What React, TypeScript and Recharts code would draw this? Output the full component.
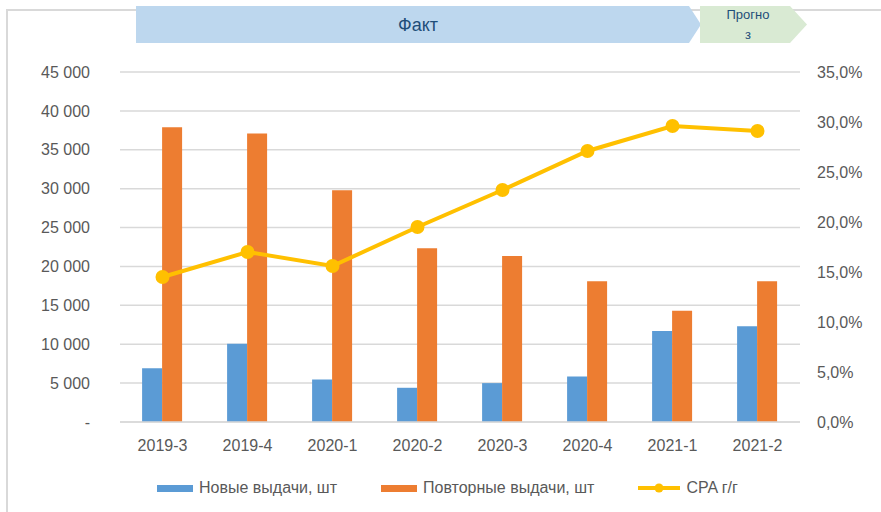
import { ComposedChart, Bar, Line, XAxis, YAxis, CartesianGrid, Legend } from 'recharts'

const quarters = ['2019-3', '2019-4', '2020-1', '2020-2', '2020-3', '2020-4', '2021-1', '2021-2']
const newIssues = [6900, 10050, 5450, 4400, 5000, 5850, 11700, 12300]
const repeatIssues = [37900, 37100, 29800, 22350, 21350, 18100, 14300, 18100]
const cpaYoY = [0.145, 0.17, 0.156, 0.195, 0.232, 0.271, 0.296, 0.291]

const leftTicks = [0, 5000, 10000, 15000, 20000, 25000, 30000, 35000, 40000, 45000]
const rightTicks = [0, 0.05, 0.1, 0.15, 0.2, 0.25, 0.3, 0.35]
const legendOrder = ['Новые выдачи, шт', 'Повторные выдачи, шт', 'CPA г/г']

const data = quarters.map((q, i) => ({
  q,
  newIssues: newIssues[i],
  repeatIssues: repeatIssues[i],
  cpa: cpaYoY[i],
}))

const font = '"Liberation Sans", Arial, sans-serif'
const tickStyle = { fill: '#595959', fontSize: 16, fontFamily: font }

const fmtThousands = (v: number) =>
  v === 0 ? '-' : String(v).replace(/\B(?=(\d{3})+(?!\d))/g, ' ')
const fmtPct = (v: number) => (v * 100).toFixed(1).replace('.', ',') + '%'

function LegendContent({ payload }: any) {
  const items = [...(payload || [])].sort(
    (a: any, b: any) => legendOrder.indexOf(a.value) - legendOrder.indexOf(b.value)
  )
  return (
    <div style={{ display: 'flex', justifyContent: 'flex-start', gap: 44, fontFamily: font, fontSize: 16, color: '#595959', paddingLeft: 157, paddingTop: 7 }}>
      {items.map((p: any) => (
        <div key={p.value} style={{ display: 'flex', alignItems: 'center', gap: 6 }}>
          {p.type === 'line' ? (
            <svg width={42} height={12}>
              <line x1={0} y1={6} x2={42} y2={6} stroke={p.color} strokeWidth={4} />
              <circle cx={21} cy={6} r={4.5} fill={p.color} />
            </svg>
          ) : (
            <span style={{ display: 'inline-block', width: 36, height: 7, background: p.color }} />
          )}
          <span>{p.value}</span>
        </div>
      ))}
    </div>
  )
}

export default function App() {
  return (
    <div style={{ position: 'absolute', left: 0, top: 0, width: 881, height: 512, background: '#fff', overflow: 'hidden' }}>
      <div style={{ position: 'absolute', left: 6, top: 9, right: -2, bottom: -2, borderLeft: '2px solid #d9d9d9', borderTop: '2px solid #d9d9d9' }} />
      <ComposedChart
        width={881}
        height={512}
        data={data}
        margin={{ top: 72, right: 0, bottom: 0, left: 0 }}
        barCategoryGap="26%"
        barGap={0}
        style={{ position: 'absolute', left: 0, top: 0 }}
      >
        <CartesianGrid yAxisId="left" vertical={false} stroke="#d9d9d9" strokeWidth={1.5} />
        <XAxis
          dataKey="q"
          tick={tickStyle}
          tickLine={false}
          axisLine={{ stroke: '#d9d9d9', strokeWidth: 1.5 }}
          tickMargin={12}
          height={50}
        />
        <YAxis
          yAxisId="left"
          width={120}
          domain={[0, 45000]}
          ticks={leftTicks}
          tickFormatter={fmtThousands}
          tick={tickStyle}
          tickLine={false}
          axisLine={false}
          tickMargin={24}
          interval={0}
        />
        <YAxis
          yAxisId="right"
          orientation="right"
          width={81}
          domain={[0, 0.35]}
          ticks={rightTicks}
          tickFormatter={fmtPct}
          tick={{ ...tickStyle, textAnchor: 'start' }}
          tickLine={false}
          axisLine={false}
          tickMargin={11}
          interval={0}
        />
        <Legend verticalAlign="bottom" height={40} content={<LegendContent />} />
        <Bar yAxisId="left" dataKey="newIssues" name="Новые выдачи, шт" fill="#5B9BD5" isAnimationActive={false} />
        <Bar yAxisId="left" dataKey="repeatIssues" name="Повторные выдачи, шт" fill="#ED7D31" isAnimationActive={false} />
        <Line
          yAxisId="right"
          dataKey="cpa"
          name="CPA г/г"
          type="linear"
          stroke="#FFC000"
          strokeWidth={4}
          dot={{ r: 5, fill: '#FFC000', stroke: '#FFC000' }}
          legendType="line"
          isAnimationActive={false}
        />
      </ComposedChart>
      <svg width={881} height={50} style={{ position: 'absolute', left: 0, top: 0 }}>
        <polygon points="136,6 689,6 701,24.5 689,43 136,43" fill="#BDD7EE" />
        <polygon points="700,6 790,6 807,24.5 790,43 700,43" fill="#D9EAD3" />
        <text x={418} y={31} textAnchor="middle" fill="#1F4E79" fontSize={18} fontFamily={font}>Факт</text>
        <text x={748} y={19} textAnchor="middle" fill="#1F4E79" fontSize={13} fontFamily={font}>Прогно</text>
        <text x={748} y={39} textAnchor="middle" fill="#1F4E79" fontSize={13} fontFamily={font}>з</text>
      </svg>
    </div>
  )
}
